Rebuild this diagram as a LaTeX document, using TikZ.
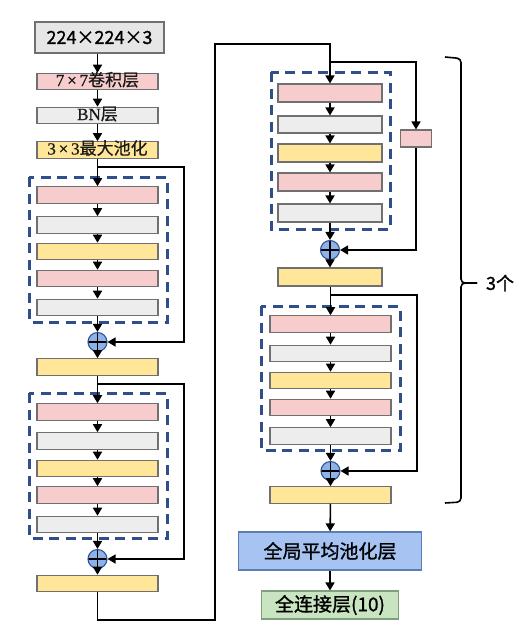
\documentclass[tikz,border=0pt]{standalone}
\usepackage{fontspec}
\setmainfont{Liberation Serif}[FakeBold=0.6]
\newfontfamily\cjk{Noto Sans CJK SC}[FakeBold=0.5]
\newfontfamily\cjkb{Noto Sans CJK SC}[FakeBold=1.2]
\usetikzlibrary{arrows.meta}
\definecolor{pinkf}{HTML}{F6CCCC}
\definecolor{grayf}{HTML}{EDEDED}
\definecolor{yelf}{HTML}{FFE699}
\definecolor{inf}{HTML}{E6E6E6}
\definecolor{bordr}{HTML}{707070}
\definecolor{dashb}{HTML}{2F4F8A}
\definecolor{bluef}{HTML}{A6C3F2}
\definecolor{blueb}{HTML}{5B7DB1}
\definecolor{greenf}{HTML}{C9E4C0}
\definecolor{greenb}{HTML}{7F9F7F}
\definecolor{plusf}{HTML}{8EB1E8}
\definecolor{plusb}{HTML}{2F5597}
\tikzset{
  lay/.style={draw=bordr, line width=1.1pt, inner sep=0pt, minimum height=16.5pt, text=black!90,
    text height=11pt, text depth=2pt, font=\fontsize{17}{17}\selectfont},
  pk/.style={lay, fill=pinkf},
  gy/.style={lay, fill=grayf},
  yl/.style={lay, fill=yelf},
  wL/.style={minimum width=121pt},
  wC/.style={minimum width=104pt},
  wD/.style={minimum width=121pt},
  sumn/.style={circle, draw=plusb, fill=plusf, line width=1.1pt, minimum size=19pt, inner sep=0pt,
    path picture={\draw[black, line width=1.5pt]
      (path picture bounding box.north) -- (path picture bounding box.south)
      (path picture bounding box.west) -- (path picture bounding box.east);}},
  ln/.style={line width=1.6pt},
  arr/.style={ln, -{Triangle[length=8pt,width=9pt]}},
  dbox/.style={draw=dashb, line width=3pt, dash pattern=on 10pt off 6.5pt},
  bigbox/.style={draw=bordr, line width=1.1pt, inner sep=0pt, font=\cjkb\fontsize{19}{19}\selectfont},
}
\begin{document}
\begin{tikzpicture}[x=1pt,y=-1pt]
\useasboundingbox (0,0) rectangle (527,632);
% ---------- left column ----------
\node[bigbox, fill=inf, minimum width=129pt, minimum height=31pt, font=\cjkb\fontsize{18}{18}\selectfont] (in) at (99.5,37.5) {224×224×3};
\node[pk, wL] (c7) at (97.5,81.5) {7\,×\,7\cjk 卷积层};
\node[gy, wL] (bn) at (97.5,115.5) {BN\cjk 层};
\node[yl, wL] (mp) at (97.5,150) {3\,×\,3\cjk 最大池化};
% block A
\draw[dbox] (29,177) rectangle (167,322);
\node[pk, wL] (a1) at (97.5,195) {};
\node[gy, wL] (a2) at (97.5,225) {};
\node[yl, wL] (a3) at (97.5,251.5) {};
\node[pk, wL] (a4) at (97.5,278.5) {};
\node[gy, wL] (a5) at (97.5,307.5) {};
\node[sumn] (sa) at (97.5,342) {};
\node[yl, wL] (ya) at (97.5,367) {};
% block B
\draw[dbox] (29,393) rectangle (167,538);
\node[pk, wL] (b1) at (97.5,412) {};
\node[gy, wL] (b2) at (97.5,441) {};
\node[yl, wL] (b3) at (97.5,468.5) {};
\node[pk, wL] (b4) at (97.5,495) {};
\node[gy, wL] (b5) at (97.5,524.5) {};
\node[sumn] (sb) at (97.5,559) {};
\node[yl, wL] (yb) at (97.5,583.5) {};
% ---------- right column ----------
\draw[dbox] (271,72) rectangle (390,229);
\node[pk, wC, minimum height=18pt] (c1) at (330,93) {};
\node[gy, wC, minimum height=17pt] (c2) at (330,124.5) {};
\node[yl, wC, minimum height=18pt] (c3) at (330,153) {};
\node[pk, wC, minimum height=18pt] (c4) at (330,182) {};
\node[gy, wC, minimum height=18pt] (c5) at (330,213) {};
\node[sumn] (sc) at (330,250) {};
\node[yl, wC, minimum height=18pt] (yc) at (330,277) {};
\node[pk, minimum width=31pt, minimum height=17pt] (sk) at (416,138.5) {};
% block D
\draw[dbox] (261,306) rectangle (400,450);
\node[pk, wD] (d1) at (330.5,324) {};
\node[gy, wD] (d2) at (330.5,353.5) {};
\node[yl, wD] (d3) at (330.5,380.5) {};
\node[pk, wD] (d4) at (330.5,407.5) {};
\node[gy, wD] (d5) at (330.5,436) {};
\node[sumn] (sd) at (330.5,471) {};
\node[yl, wD] (yd) at (330.5,495) {};
\node[bigbox, draw=blueb, fill=bluef, minimum width=183pt, minimum height=38pt] (gap) at (330,551) {全局平均池化层};
\node[bigbox, draw=greenb, fill=greenf, minimum width=137pt, minimum height=28pt] (fc) at (330,605) {全连接层(10)};
% ---------- connectors ----------
\draw[arr] (in.south -| c7.north) -- (c7.north);
\draw[arr] (c7) -- (bn);
\draw[arr] (bn) -- (mp);
\draw[arr] (mp) -- (a1);
\draw[arr] (a1) -- (a2);
\draw[arr] (a2) -- (a3);
\draw[arr] (a3) -- (a4);
\draw[arr] (a4) -- (a5);
\draw[arr] (a5) -- (sa);
\draw[arr] (sa) -- (ya);
\coordinate (ka) at (97.5,167);
\draw[arr] (ka) -- (184,167) -- (184,342) -- (sa.east);
\draw[arr] (ya) -- (b1);
\draw[arr] (b1) -- (b2);
\draw[arr] (b2) -- (b3);
\draw[arr] (b3) -- (b4);
\draw[arr] (b4) -- (b5);
\draw[arr] (b5) -- (sb);
\draw[arr] (sb) -- (yb);
\coordinate (kb) at (97.5,384);
\draw[arr] (kb) -- (184,384) -- (184,559) -- (sb.east);
\draw[arr] (yb.south) -- (97.5,620) -- (215,620) -- (215,44) -- (330,44) -- (c1.north);
\draw[arr] (c1) -- (c2);
\draw[arr] (c2) -- (c3);
\draw[arr] (c3) -- (c4);
\draw[arr] (c4) -- (c5);
\draw[arr] (c5) -- (sc);
\draw[arr] (sc) -- (yc);
\coordinate (kc) at (330,62);
\draw[arr] (kc) -- (416,62) -- (sk.north);
\draw[arr] (sk.south) -- (416,250) -- (sc.east);
\draw[arr] (yc.south -| d1.north) -- (d1.north);
\draw[arr] (d1) -- (d2);
\draw[arr] (d2) -- (d3);
\draw[arr] (d3) -- (d4);
\draw[arr] (d4) -- (d5);
\draw[arr] (d5) -- (sd);
\draw[arr] (sd) -- (yd);
\coordinate (kd) at (330.5,295);
\draw[arr] (kd) -- (417,295) -- (417,471) -- (sd.east);
\draw[arr] (yd) -- (gap);
\draw[arr] (gap) -- (fc);
% ---------- brace ----------
\draw[ln, rounded corners=4pt] (445,57) -- (461,58.5) -- (461,283) -- (477,283);
\draw[ln, rounded corners=4pt] (445,503) -- (461,502) -- (461,283) -- (477,283);
\node[font=\cjkb\fontsize{18}{18}\selectfont, inner sep=0pt] (lab) at (500,283) {3个};
\end{tikzpicture}
\end{document}
